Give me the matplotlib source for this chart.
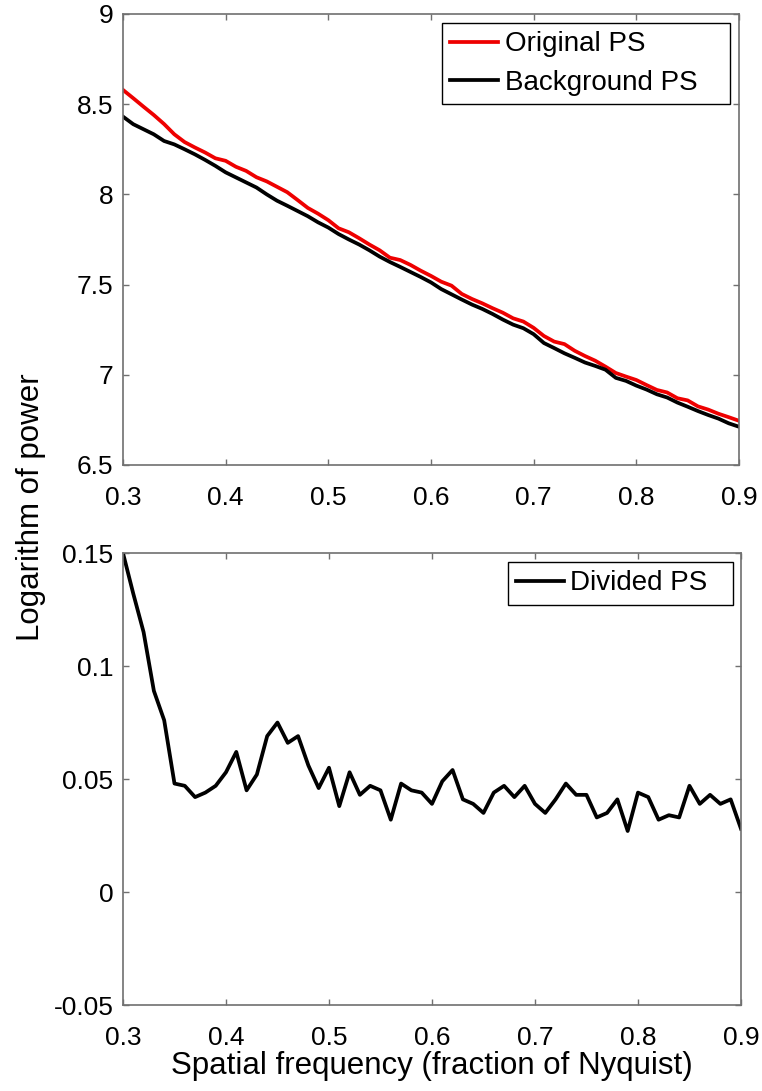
import numpy as np
import matplotlib
matplotlib.use("Agg")
import matplotlib.pyplot as plt

plt.rcParams['font.family'] = ['Liberation Sans', 'DejaVu Sans']

# spatial frequency, 0.3 .. 0.9 in steps of 0.01
freq = np.round(np.arange(0.30, 0.905, 0.01), 2)

original_ps = [8.579, 8.533, 8.486, 8.440, 8.390, 8.333, 8.290, 8.260, 8.232, 8.200,
               8.186, 8.153, 8.130, 8.095, 8.072, 8.042, 8.012, 7.969, 7.925, 7.893,
               7.857, 7.812, 7.790, 7.757, 7.722, 7.690, 7.649, 7.636, 7.609, 7.577,
               7.548, 7.516, 7.494, 7.448, 7.420, 7.396, 7.369, 7.344, 7.313, 7.295,
               7.260, 7.215, 7.184, 7.170, 7.133, 7.104, 7.078, 7.045, 7.010, 6.990,
               6.971, 6.943, 6.916, 6.902, 6.870, 6.858, 6.825, 6.807, 6.784, 6.765,
               6.745]
background_ps = [8.431, 8.389, 8.361, 8.333, 8.296, 8.277, 8.250, 8.222, 8.191, 8.158,
                 8.122, 8.094, 8.066, 8.038, 8.000, 7.965, 7.937, 7.908, 7.879, 7.845,
                 7.816, 7.780, 7.750, 7.722, 7.690, 7.655, 7.625, 7.598, 7.570, 7.542,
                 7.512, 7.475, 7.446, 7.417, 7.389, 7.365, 7.337, 7.306, 7.278, 7.258,
                 7.225, 7.176, 7.148, 7.119, 7.094, 7.068, 7.049, 7.028, 6.983, 6.966,
                 6.940, 6.918, 6.892, 6.874, 6.846, 6.823, 6.799, 6.777, 6.757, 6.731,
                 6.712]
divided_ps = [0.150, 0.132, 0.115, 0.089, 0.076, 0.048, 0.047, 0.042, 0.044, 0.047,
              0.053, 0.062, 0.045, 0.052, 0.069, 0.075, 0.066, 0.069, 0.056, 0.046,
              0.055, 0.038, 0.053, 0.043, 0.047, 0.045, 0.032, 0.048, 0.045, 0.044,
              0.039, 0.049, 0.054, 0.041, 0.039, 0.035, 0.044, 0.047, 0.042, 0.047,
              0.039, 0.035, 0.041, 0.048, 0.043, 0.043, 0.033, 0.035, 0.041, 0.027,
              0.044, 0.042, 0.032, 0.034, 0.033, 0.047, 0.039, 0.043, 0.039, 0.041,
              0.028]

xticks = [0.3, 0.4, 0.5, 0.6, 0.7, 0.8, 0.9]
xtick_labels = ['0.3', '0.4', '0.5', '0.6', '0.7', '0.8', '0.9']
top_yticks = [6.5, 7, 7.5, 8, 8.5, 9]
top_ytick_labels = ['6.5', '7', '7.5', '8', '8.5', '9']
bot_yticks = [-0.05, 0, 0.05, 0.1, 0.15]
bot_ytick_labels = ['-0.05', '0', '0.05', '0.1', '0.15']

spine_col = '#707070'
lw = 2.7

fig = plt.figure(figsize=(7.62, 10.91), dpi=100)
ax1 = fig.add_axes([0.1614, 0.5738, 0.8084, 0.4134])
ax2 = fig.add_axes([0.1614, 0.0788, 0.8110, 0.4143])

ax1.plot(freq, original_ps, color='#ee0000', lw=lw, label='Original PS')
ax1.plot(freq, background_ps, color='black', lw=lw, label='Background PS')
ax2.plot(freq, divided_ps, color='black', lw=lw, label='Divided PS')

for ax, yt, ytl in [(ax1, top_yticks, top_ytick_labels), (ax2, bot_yticks, bot_ytick_labels)]:
    ax.set_xlim(0.3, 0.9)
    ax.set_ylim(yt[0], yt[-1])
    ax.set_xticks(xticks, xtick_labels)
    ax.set_yticks(yt, ytl)
    for s in ax.spines.values():
        s.set_color(spine_col)
        s.set_linewidth(1.2)
    ax.tick_params(direction='in', length=4.5, width=1, color=spine_col,
                   top=True, right=True, labelsize=19)
    ax.tick_params(axis='x', pad=15)
    ax.tick_params(axis='y', pad=7)

leg_kw = dict(loc='upper left', mode='expand', fontsize=20, fancybox=False,
              edgecolor='black', framealpha=1, handlelength=1.7,
              handletextpad=0.25, borderpad=0.3, labelspacing=0.45,
              borderaxespad=0)
leg1 = ax1.legend(bbox_to_anchor=(0.518, 0, 0.467, 0.980), **leg_kw)
leg1.get_frame().set_linewidth(1.0)
leg2 = ax2.legend(bbox_to_anchor=(0.623, 0, 0.364, 0.980), **leg_kw)
leg2.get_frame().set_linewidth(1.0)

ax2.set_xlabel('Spatial frequency (fraction of Nyquist)', fontsize=22.5, va='center')
ax2.xaxis.set_label_coords(0.5, -0.135)
fig.text(0.041, 0.535, 'Logarithm of power', rotation=90, fontsize=22.5,
         ha='center', va='center')

fig.savefig('out.png', dpi=100)
